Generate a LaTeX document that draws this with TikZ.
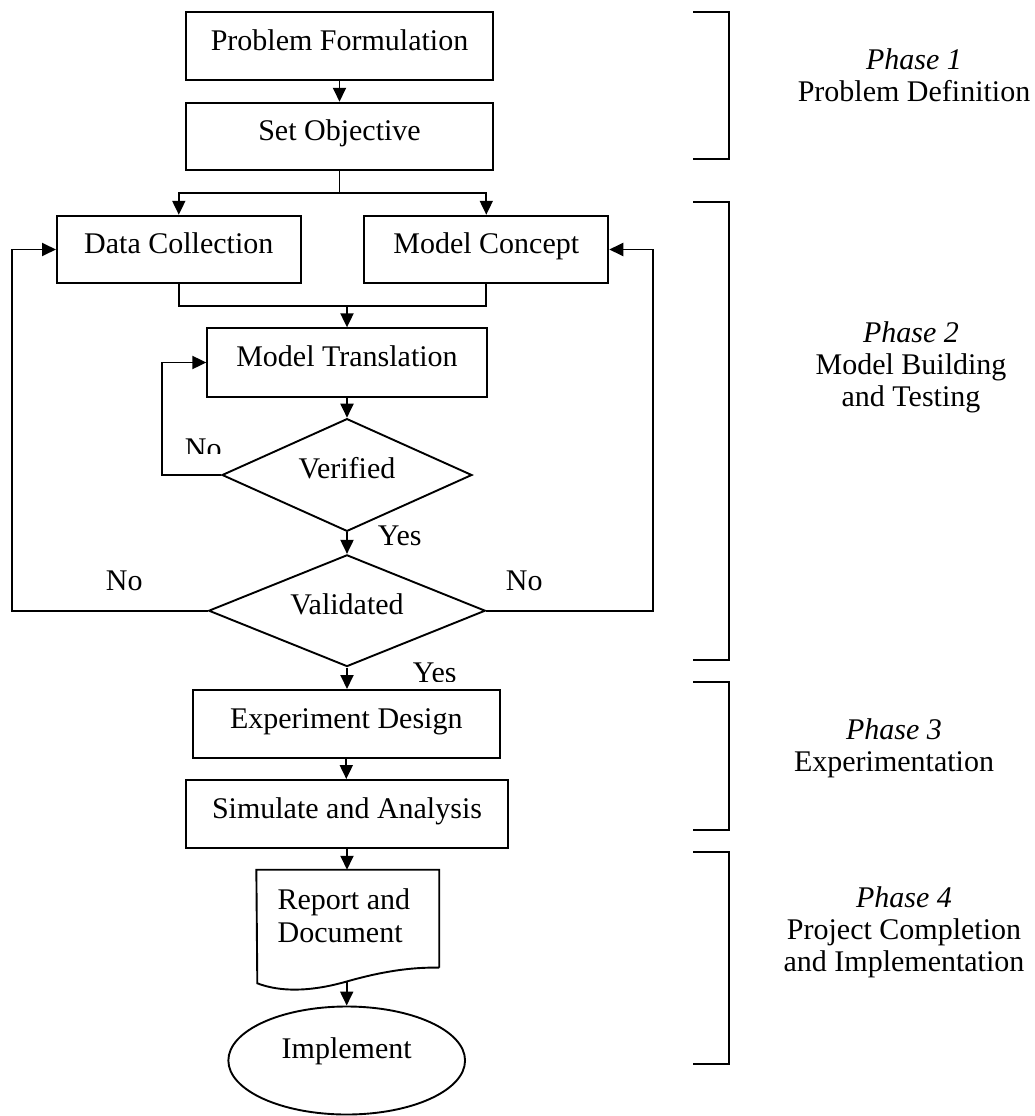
\documentclass[tikz,border=0pt]{standalone}
\usepackage{fontspec}
\setmainfont{Liberation Serif}
\usetikzlibrary{arrows.meta,shapes.geometric}
\begin{document}
\begin{tikzpicture}[x=1pt,y=-1pt,
  every node/.style={font=\fontsize{30}{33}\selectfont, inner sep=0pt},
  line width=1.9pt,
  procbox/.style={draw, rectangle, text height=20.5pt, text depth=12pt},
  decbox/.style={draw, diamond, aspect=2.5, text height=20.5pt, text depth=13pt},
  arr/.style={-{Triangle[length=14pt,width=13pt]}},
  lbl/.style={anchor=base west},
  phase/.style={align=center, anchor=north, font=\fontsize{30}{31.7}\selectfont}
]
\useasboundingbox (0,0) rectangle (1034,1116);

% main flow
\node[procbox, minimum width=307pt, minimum height=67.7pt] (pf) at (339.5,46.2) {Problem Formulation};
\node[procbox, minimum width=307pt, minimum height=67.6pt] (so) at (339.5,136.5) {Set Objective};
\node[procbox, minimum width=243.7pt, minimum height=67.6pt] (dc) at (178.8,249.5) {Data Collection};
\node[procbox, minimum width=244pt, minimum height=67.6pt] (mc) at (486.3,249.5) {Model Concept};
\node[procbox, minimum width=279.4pt, minimum height=68.4pt] (mt) at (347,362.5) {Model Translation};
\node[decbox, minimum width=250pt, minimum height=112.7pt] (ver) at (347,475) {Verified};
\node[decbox, minimum width=276.7pt, minimum height=111.7pt] (val) at (347,610.7) {Validated};
\node[procbox, minimum width=307.3pt, minimum height=67.7pt] (ed) at (346.3,723.8) {Experiment Design};
\node[procbox, minimum width=322.6pt, minimum height=67.7pt] (sa) at (347,813.8) {Simulate and Analysis\hspace{13pt}};
\node[minimum width=181pt, minimum height=96pt] (rep) at (347.8,918.7) {};
\node[align=left, anchor=north west, font=\fontsize{30}{33.3}\selectfont] (reptxt) at (276.7,887.8) {Report and\\Document};
\node[draw, ellipse, minimum width=236.7pt, minimum height=108pt, text height=20.5pt, text depth=24.5pt] (impl) at (346.7,1060.5) {Implement};

% document shape
\coordinate (wl) at (257.3,983.3);
\coordinate (wm) at (346.7,981.5);
\draw (rep.south east) -- (rep.north east) -- (rep.north west) -- (wl)
  .. controls (280,992) and (310,992) .. (wm)
  .. controls (380,972) and (410,967) .. (rep.south east);

% connectors
\coordinate (split) at (339.5,192.7);
\coordinate (merge) at (347,306);
\coordinate (vl) at (162.3,0);
\coordinate (ll) at (12.3,0);
\coordinate (rl) at (652.7,0);

\draw[arr] (pf.south) -- (so.north);
\draw (so.south) -- (split);
\draw[arr] (split) -| (dc.north);
\draw[arr] (split) -| (mc.north);
\draw (dc.south) |- (merge);
\draw (mc.south) |- (merge);
\draw[arr] (merge) -- (mt.north);
\draw[arr] (mt.south) -- (ver.north);
\draw[arr] (ver.west) -- (ver.west -| vl) |- (mt.west);
\draw[arr] (ver.south) -- (val.north);
\draw[arr] (val.west) -- (val.west -| ll) |- (dc.west);
\draw[arr] (val.east) -- (val.east -| rl) |- (mc.east);
\draw[arr] (val.south) -- (val.south |- ed.north);
\draw[arr] (ed.south) -- (ed.south |- sa.north);
\draw[arr] (sa.south) -- (sa.south |- rep.north);
\draw[arr] (wm) -- (impl.north);

% labels
\begin{scope}
  \clip (150,400) rectangle (240,453.5);
  \node[lbl] (no1) at (184,458) {No};
\end{scope}
\node[lbl] (yes1) at (377,545.7) {Yes};
\node[lbl] (no2) at (105,590.7) {No};
\node[lbl] (no3) at (505,590.7) {No};
\begin{scope}
  \clip (380,640) rectangle (480,681.7);
  \node[lbl] (yes2) at (412,682.6) {Yes};
\end{scope}

% phase brackets
\draw (693,12.3) -- (729.3,12.3) -- (729.3,159) -- (693,159);
\draw (693,201.7) -- (729.3,201.7) -- (729.3,660) -- (693,660);
\draw (693,682.3) -- (729.3,682.3) -- (729.3,830) -- (693,830);
\draw (693,851.7) -- (729.3,851.7) -- (729.3,1064) -- (693,1064);

% phase labels
\node[phase] (p1) at (914,47.8) {\textit{Phase 1}\\Problem Definition};
\node[phase] (p2) at (911,321.2) {\textit{Phase 2}\\Model Building\\and Testing};
\node[phase] (p3) at (894,717.8) {\textit{Phase 3}\\Experimentation};
\node[phase] (p4) at (904,886.2) {\textit{Phase 4}\\Project Completion\\and Implementation};
\end{tikzpicture}
\end{document}
